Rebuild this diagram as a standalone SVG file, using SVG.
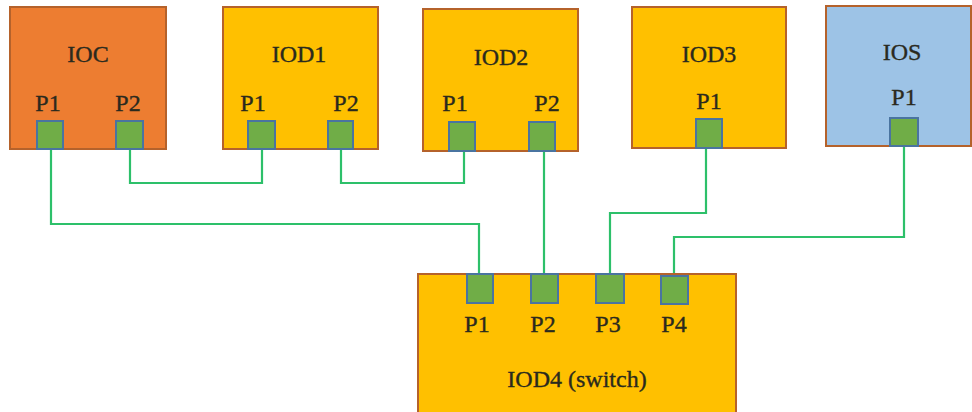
<svg xmlns="http://www.w3.org/2000/svg" width="972" height="412" viewBox="0 0 972 412">
  <style>
    .box { stroke: #B5622B; stroke-width: 2; }
    .orange { fill: #ED7D31; }
    .yellow { fill: #FFC000; }
    .blue { fill: #9DC3E6; }
    .port { fill: #70AD47; stroke: #4A74A0; stroke-width: 2; }
    .lbl { font-family: "Liberation Serif", "Times New Roman", serif; font-size: 24px; fill: #2a2a1e; stroke: #2a2a1e; stroke-width: 0.35; text-anchor: middle; }
    .wire { fill: none; stroke: #2DC06A; stroke-width: 2.2; stroke-linejoin: miter; }
  </style>

  <!-- cable runs between ports -->
  <g id="connectors">
    <path class="wire" d="M51,149 V224 H479 V274"/>
    <path class="wire" d="M130,149 V183 H262 V149"/>
    <path class="wire" d="M341,149 V183 H464 V151"/>
    <path class="wire" d="M544,151 V274"/>
    <path class="wire" d="M706,148 V213 H610 V274"/>
    <path class="wire" d="M904,146 V237 H674 V276"/>
  </g>

  <g id="IOC">
    <rect class="box orange" x="10" y="7" width="156" height="142"/>
    <text class="lbl" x="88" y="62">IOC</text>
    <text class="lbl" x="48" y="111">P1</text>
    <text class="lbl" x="128" y="111">P2</text>
    <rect class="port" x="37" y="121" width="26" height="28"/>
    <rect class="port" x="116" y="121" width="27" height="28"/>
  </g>

  <g id="IOD1">
    <rect class="box yellow" x="223" y="7" width="155" height="142"/>
    <text class="lbl" x="299" y="62">IOD1</text>
    <text class="lbl" x="253" y="111">P1</text>
    <text class="lbl" x="346" y="111">P2</text>
    <rect class="port" x="248" y="121" width="27" height="28"/>
    <rect class="port" x="328" y="121" width="25" height="28"/>
  </g>

  <g id="IOD2">
    <rect class="box yellow" x="423" y="9" width="155" height="142"/>
    <text class="lbl" x="501" y="65">IOD2</text>
    <text class="lbl" x="455" y="111">P1</text>
    <text class="lbl" x="547" y="111">P2</text>
    <rect class="port" x="449" y="122" width="26" height="29"/>
    <rect class="port" x="529" y="122" width="26" height="29"/>
  </g>

  <g id="IOD3">
    <rect class="box yellow" x="632" y="7" width="154" height="141"/>
    <text class="lbl" x="709" y="62">IOD3</text>
    <text class="lbl" x="709" y="109">P1</text>
    <rect class="port" x="696" y="119" width="26" height="29"/>
  </g>

  <g id="IOS">
    <rect class="box blue" x="826" y="6" width="145" height="140"/>
    <text class="lbl" x="902" y="60">IOS</text>
    <text class="lbl" x="904" y="105">P1</text>
    <rect class="port" x="890" y="118" width="28" height="28"/>
  </g>

  <g id="IOD4">
    <rect class="box yellow" x="418" y="274" width="318" height="142"/>
    <rect class="port" x="467" y="274" width="26" height="29"/>
    <rect class="port" x="531" y="274" width="27" height="29"/>
    <rect class="port" x="596" y="274" width="28" height="29"/>
    <rect class="port" x="661" y="276" width="27" height="28"/>
    <text class="lbl" x="477" y="332">P1</text>
    <text class="lbl" x="543" y="332">P2</text>
    <text class="lbl" x="608" y="332">P3</text>
    <text class="lbl" x="674" y="332">P4</text>
    <text class="lbl" x="577" y="387">IOD4 (switch)</text>
  </g>
</svg>
